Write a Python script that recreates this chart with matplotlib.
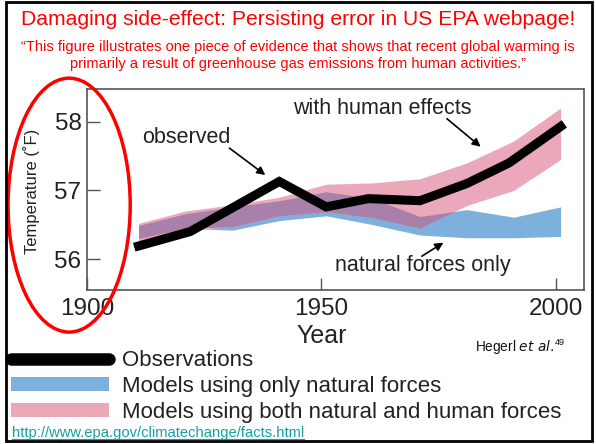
import matplotlib
matplotlib.use("Agg")
from matplotlib import pyplot as plt
from matplotlib.lines import Line2D
from matplotlib.patches import Patch, Ellipse, Rectangle
import numpy as np

plt.rcParams['font.family'] = ['Liberation Sans', 'DejaVu Sans']

# decade model ranges (deg F)
years = [1911, 1921, 1931, 1941, 1951, 1961, 1971, 1981, 1991, 2001]
human_hi = [56.52, 56.70, 56.79, 56.90, 57.09, 57.11, 57.17, 57.40, 57.72, 58.20]
human_lo = [56.25, 56.42, 56.47, 56.63, 56.69, 56.60, 56.45, 56.78, 57.00, 57.45]
natural_hi = [56.49, 56.66, 56.76, 56.85, 56.98, 56.88, 56.62, 56.72, 56.61, 56.76]
natural_lo = [56.30, 56.45, 56.42, 56.56, 56.63, 56.50, 56.35, 56.31, 56.31, 56.33]

# observed temperature
obs_years = [1911, 1922, 1941, 1951, 1960, 1971, 1981, 1990, 2001]
obs_temp = [56.19, 56.40, 57.13, 56.76, 56.88, 56.85, 57.10, 57.40, 57.93]

xticks = [1900, 1950, 2000]
yticks = [56, 57, 58]

PINK = '#eba8bb'
BLUE = '#7eb0dd'
PURPLE = '#a880aa'
TXT = '#222222'

fig = plt.figure(figsize=(5.96, 4.44), dpi=100)
ax = fig.add_axes([0.146, 0.347, 0.834, 0.453])

yr = np.array(years)
lo = np.maximum(human_lo, natural_lo)
hi = np.minimum(human_hi, natural_hi)
ax.fill_between(yr, natural_lo, natural_hi, color=BLUE, lw=0)
ax.fill_between(yr, human_lo, human_hi, color=PINK, lw=0)
ax.fill_between(yr, lo, hi, where=hi > lo, interpolate=True, color=PURPLE, lw=0)
ax.plot(obs_years, obs_temp, color='black', lw=6.5, solid_joinstyle='miter')

ax.set_xlim(1900, 2006)
ax.set_ylim(55.55, 58.48)
ax.set_xticks(xticks)
ax.set_yticks(yticks)
ax.tick_params(direction='in', length=9, width=1, color='#555555', labelcolor=TXT)
ax.tick_params(axis='x', labelsize=17.5, pad=6)
ax.tick_params(axis='y', labelsize=17.5, pad=4)
for s in ax.spines.values():
    s.set_color('#555555')
    s.set_linewidth(1.2)
ax.set_xlabel('Year', fontsize=18, color=TXT)
ax.xaxis.set_label_coords(0.472, -0.17)
ax.set_ylabel('Temperature (\u02daF)', fontsize=12, color=TXT)
ax.yaxis.set_label_coords(-0.095, 0.49)

# in-chart labels
ax.text(1921.2, 57.77, 'observed', fontsize=15.5, ha='center', va='center', color=TXT)
ax.annotate('', xy=(1938.5, 57.2), xytext=(1929.9, 57.64),
            arrowprops=dict(arrowstyle='-|>', color='black', lw=1.2, mutation_scale=12))
ax.text(1963.0, 58.2, 'with human effects', fontsize=15.5, ha='center', va='center', color=TXT)
ax.annotate('', xy=(1984.4, 57.61), xytext=(1976.3, 58.07),
            arrowprops=dict(arrowstyle='-|>', color='black', lw=1.2, mutation_scale=12))
ax.text(1971.6, 55.9, 'natural forces only', fontsize=15.5, ha='center', va='center', color=TXT)
ax.annotate('', xy=(1976.5, 56.26), xytext=(1970.9, 56.02),
            arrowprops=dict(arrowstyle='-|>', color='black', lw=1.2, mutation_scale=12))

# titles
fig.text(0.5, 0.955, 'Damaging side-effect: Persisting error in US EPA webpage!',
         fontsize=15.2, color='red', ha='center', va='center')
fig.text(0.5, 0.875, '\u201cThis figure illustrates one piece of evidence that shows that recent global warming is\n'
         'primarily a result of greenhouse gas emissions from human activities.\u201d',
         fontsize=10.5, color='red', ha='center', va='center', linespacing=1.25)

# citation
cite = fig.text(0.797, 0.218, 'Hegerl $\\it{et\\ al.}$', fontsize=9.8, ha='left', va='center', color='#111111')
fig.canvas.draw()
cb = cite.get_window_extent().transformed(fig.transFigure.inverted())
fig.text(cb.x1 + 0.001, 0.228, '49', fontsize=6.5, ha='left', va='center', color='#111111')

# legend
handles = [Line2D([], [], color='black', lw=9, solid_capstyle='round'),
           Patch(facecolor=BLUE, edgecolor='none'),
           Patch(facecolor=PINK, edgecolor='none')]
labels = ['Observations', 'Models using only natural forces', 'Models using both natural and human forces']
fig.legend(handles, labels, loc='upper left', bbox_to_anchor=(0.019, 0.211), frameon=False,
           fontsize=16, handlelength=4.4, handleheight=0.6, handletextpad=0.6,
           labelspacing=0.22, borderaxespad=0, borderpad=0, labelcolor=TXT)

url = fig.text(0.02, 0.025, 'http://www.epa.gov/climatechange/facts.html', fontsize=10.6,
               color='#14a0a8', ha='left', va='center')
fig.canvas.draw()
bb = url.get_window_extent().transformed(fig.transFigure.inverted())
fig.add_artist(Line2D([bb.x0, bb.x1], [bb.y0 + 0.003, bb.y0 + 0.003], color='#14a0a8', lw=0.8))

# red ellipse around the axis label
fig.add_artist(Ellipse((0.116, 0.538), 0.205, 0.572, fill=False, edgecolor='red', lw=2.5))

# slide border
fig.add_artist(Rectangle((0.01, 0.006), 0.984, 0.99, fill=False, edgecolor='black', lw=2))

fig.savefig('out.png', dpi=100)
